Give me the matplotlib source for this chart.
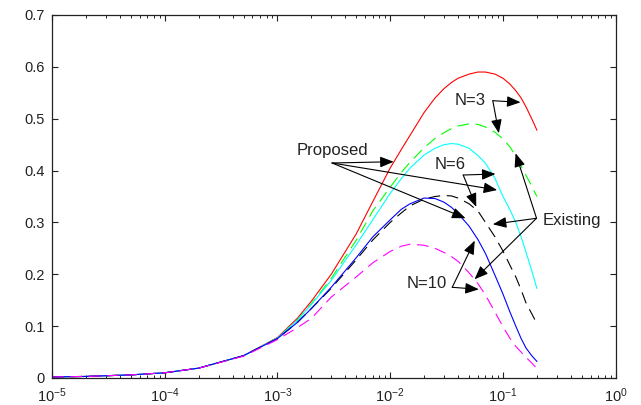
import matplotlib
matplotlib.use("Agg")
import matplotlib.pyplot as plt
from matplotlib.ticker import LogLocator, NullFormatter

plt.rcParams['font.family'] = ['Liberation Sans', 'DejaVu Sans']
plt.rcParams['mathtext.fontset'] = 'custom'
plt.rcParams['mathtext.rm'] = 'Liberation Sans'
plt.rcParams['mathtext.it'] = 'Liberation Sans'

# ---- data ----
x_vals = [1e-5, 2e-5, 5e-5, 1e-4, 2e-4, 5e-4, 1e-3, 1.5e-3, 2e-3, 3e-3, 5e-3, 7e-3,
          0.01, 0.0125, 0.015, 0.02, 0.025, 0.03, 0.035, 0.04, 0.05, 0.06, 0.07,
          0.085, 0.1, 0.115, 0.13, 0.145, 0.16, 0.18, 0.2]

n3_proposed = [0.002, 0.003, 0.006, 0.010, 0.019, 0.043, 0.078, 0.115, 0.148, 0.200, 0.278, 0.340,
               0.405, 0.440, 0.468, 0.512, 0.540, 0.558, 0.570, 0.578, 0.586, 0.590, 0.590,
               0.586, 0.578, 0.567, 0.554, 0.540, 0.523, 0.500, 0.478]
n3_existing = [0.002, 0.003, 0.006, 0.010, 0.019, 0.043, 0.077, 0.112, 0.143, 0.192, 0.266, 0.322,
               0.368, 0.396, 0.416, 0.444, 0.462, 0.473, 0.481, 0.486, 0.490, 0.489, 0.484,
               0.474, 0.461, 0.446, 0.428, 0.408, 0.391, 0.370, 0.350]
n6_proposed = [0.002, 0.003, 0.006, 0.010, 0.019, 0.043, 0.077, 0.111, 0.142, 0.188, 0.257, 0.305,
               0.356, 0.384, 0.405, 0.430, 0.443, 0.450, 0.452, 0.451, 0.443, 0.429, 0.414,
               0.385, 0.350, 0.325, 0.300, 0.272, 0.243, 0.207, 0.173]
n6_existing = [0.002, 0.003, 0.006, 0.010, 0.019, 0.043, 0.076, 0.107, 0.134, 0.173, 0.228, 0.266,
               0.300, 0.318, 0.332, 0.345, 0.350, 0.352, 0.351, 0.347, 0.336, 0.322, 0.300,
               0.272, 0.245, 0.218, 0.195, 0.170, 0.145, 0.124, 0.105]
n10_proposed = [0.002, 0.003, 0.006, 0.010, 0.019, 0.043, 0.076, 0.107, 0.134, 0.175, 0.232, 0.272,
                0.305, 0.325, 0.336, 0.347, 0.346, 0.339, 0.329, 0.317, 0.293, 0.267, 0.240,
                0.198, 0.162, 0.128, 0.100, 0.076, 0.058, 0.043, 0.032]
n10_existing = [0.002, 0.003, 0.006, 0.010, 0.019, 0.042, 0.074, 0.097, 0.115, 0.156, 0.195, 0.222,
                0.244, 0.254, 0.258, 0.256, 0.250, 0.242, 0.234, 0.225, 0.203, 0.182, 0.160,
                0.127, 0.099, 0.077, 0.061, 0.050, 0.040, 0.029, 0.018]

y_ticks = [0, 0.1, 0.2, 0.3, 0.4, 0.5, 0.6, 0.7]
y_tick_labels = ['0', '0.1', '0.2', '0.3', '0.4', '0.5', '0.6', '0.7']

# annotation label -> (text position, arrow origin, [arrow targets])
annotations = {
    'Proposed': ((0.00308, 0.438), (0.00305, 0.4146), [(0.01074, 0.417), (0.0889, 0.3625), (0.0466, 0.308)]),
    'N=3': ((0.0508, 0.535), (0.0813, 0.5347), [(0.1432, 0.5316), (0.092, 0.472)]),
    'N=6': ((0.0343, 0.4123), (0.0444, 0.3914), [(0.0859, 0.3934), (0.058, 0.330)]),
    'Existing': ((0.2249, 0.3037), (0.1986, 0.308), [(0.1295, 0.4333), (0.0813, 0.2964), (0.056, 0.1903)]),
    'N=10': ((0.0211, 0.1816), (0.0355, 0.1749), [(0.0562, 0.2648), (0.0611, 0.171)]),
}

# ---- figure ----
fig = plt.figure(figsize=(6.41, 4.05), dpi=100)
ax = fig.add_axes([0.0811, 0.0667, 0.8794, 0.8963])

lw = 0.8
dash = (0, (10.5, 6))
ax.plot(x_vals, n3_proposed, color='#ff0000', lw=lw)
ax.plot(x_vals, n3_existing, color='#00ff00', lw=lw, linestyle=dash)
ax.plot(x_vals, n6_proposed, color='#00ffff', lw=lw)
ax.plot(x_vals, n6_existing, color='#000000', lw=lw, linestyle=dash)
ax.plot(x_vals, n10_proposed, color='#0000ff', lw=lw)
ax.plot(x_vals, n10_existing, color='#ff00ff', lw=lw, linestyle=dash)

ax.set_xscale('log')
ax.set_xlim(1e-5, 1)
ax.set_ylim(0, 0.7)
ax.set_yticks(y_ticks)
ax.set_yticklabels(y_tick_labels)
ax.xaxis.set_major_locator(LogLocator(base=10, numticks=10))
ax.xaxis.set_minor_locator(LogLocator(base=10, subs=range(2, 10), numticks=100))
ax.xaxis.set_minor_formatter(NullFormatter())

ax.tick_params(which='both', direction='in', top=True, right=True, labelsize=10.5, colors='#222222')
ax.tick_params(which='major', length=4.5, width=0.8)
ax.tick_params(which='minor', length=2.5, width=0.7)
ax.tick_params(axis='x', pad=6)
ax.tick_params(axis='y', pad=5)
for s in ax.spines.values():
    s.set_linewidth(0.9)
    s.set_color('#222222')

arrowprops = dict(arrowstyle='-|>,head_length=0.55,head_width=0.22', color='black', lw=0.8,
                  shrinkA=0, shrinkB=0, mutation_scale=15)
for label, (tpos, origin, targets) in annotations.items():
    ha = 'left' if label == 'Existing' else 'center'
    ax.text(tpos[0], tpos[1], label, fontsize=12, ha=ha, va='center', color='#222222')
    for tgt in targets:
        ax.annotate('', xy=tgt, xytext=origin, arrowprops=arrowprops)

fig.savefig('out.png', dpi=100)
